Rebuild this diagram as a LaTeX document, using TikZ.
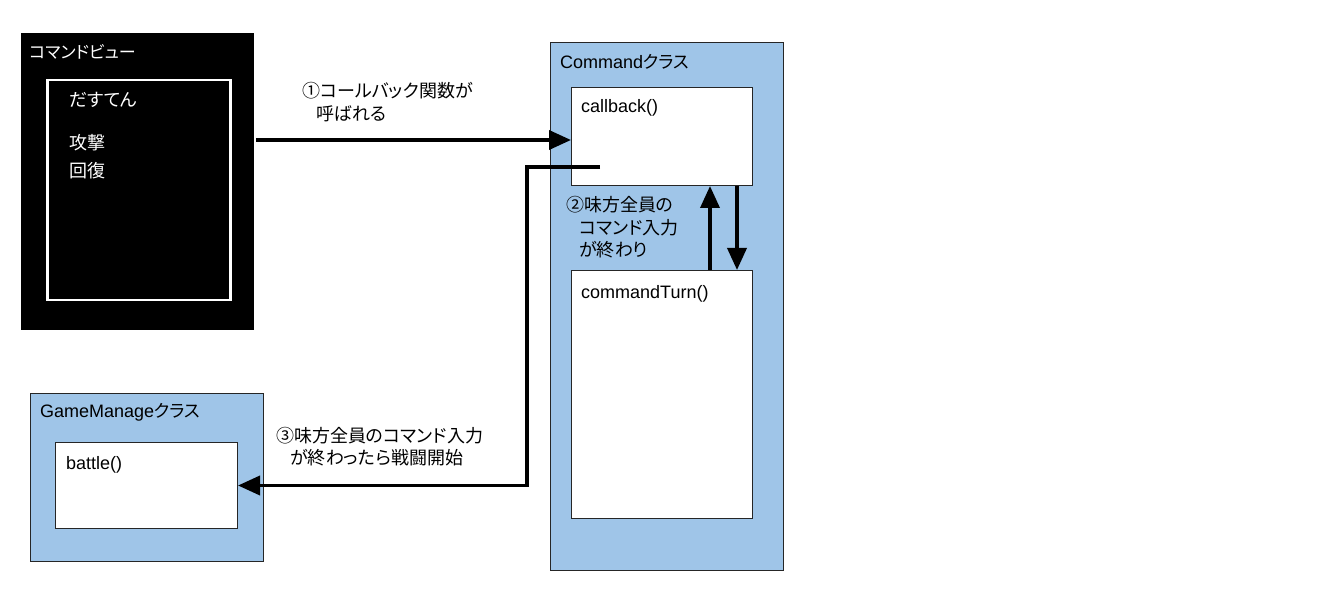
\documentclass[tikz,border=0pt]{standalone}
\usepackage{fontspec}
\setmainfont{Liberation Sans}
\newfontfamily\jp[RawFeature={+palt}]{Noto Sans CJK JP}
\usetikzlibrary{arrows.meta}
\definecolor{clsblue}{HTML}{9FC5E8}
\newcommand\J[1]{{\jp\fontsize{17.5}{20}\selectfont #1}}
\begin{document}
\begin{tikzpicture}[x=1pt,y=-1pt,
  cls/.style={draw=black!85, fill=clsblue, line width=1pt, anchor=north west, inner sep=0},
  fn/.style={draw=black!85, fill=white, line width=1pt, anchor=north west, inner sep=0},
  lbl/.style={anchor=west, inner sep=0, font=\fontsize{18}{20}\selectfont},
  jlbl/.style={anchor=west, inner sep=0, font=\jp\fontsize{18}{20}\selectfont},
  conn/.style={line width=3.6pt, -{Triangle[length=22pt,width=19pt]}},
]
\useasboundingbox (0,0) rectangle (1344,609);

% Command view (black panel)
\node[fill=black, anchor=north west, inner sep=0, minimum width=233pt, minimum height=297pt] (view) at (21,33) {};
\node[draw=white, line width=2.5pt, anchor=north west, inner sep=0, minimum width=183pt, minimum height=220pt] (menu) at (46,79) {};
\node[jlbl, text=white, font=\jp\fontsize{17}{20}\selectfont] (viewt) at (29,52) {コマンドビュー};
\node[jlbl, text=white] (m1) at (69,100) {だすてん};
\node[jlbl, text=white] (m2) at (69,143) {攻撃};
\node[jlbl, text=white] (m3) at (69,171) {回復};

% Command class
\node[cls, minimum width=233pt, minimum height=528pt] (cmd) at (550,42) {};
\node[lbl] (cmdt) at (560,62) {Command\J{クラス}};
\node[fn, minimum width=181pt, minimum height=98pt] (cb) at (571,87) {};
\node[lbl] (cbt) at (581,108) {callback()};
\node[fn, minimum width=181pt, minimum height=248pt] (ct) at (571,270) {};
\node[lbl] (ctt) at (581,294) {commandTurn()};

% GameManage class
\node[cls, minimum width=233pt, minimum height=168pt] (gm) at (30,393) {};
\node[lbl] (gmt) at (40,412) {GameManage\J{クラス}};
\node[fn, minimum width=182pt, minimum height=86pt] (bt) at (55,442) {};
\node[lbl] (btt) at (66,465) {battle()};

% labels
\node[jlbl] (l1a) at (302,91) {①コールバック関数が};
\node[jlbl] (l1b) at (316,114) {呼ばれる};
\node[jlbl] (l2a) at (566,205) {②味方全員の};
\node[jlbl] (l2b) at (579,228) {コマンド入力};
\node[jlbl] (l2c) at (579,250) {が終わり};
\node[jlbl] (l3a) at (276,436) {③味方全員のコマンド入力};
\node[jlbl] (l3b) at (290,458) {が終わったら戦闘開始};

% connectors
\coordinate (a1s) at (256,140);
\draw[conn] (a1s) -- (cb.west |- a1s);
\coordinate (r0) at (600,167);
\draw[conn] (r0) -- (527,167) |- (bt.east);
\coordinate (u) at (710,0);
\coordinate (d) at (737,0);
\draw[conn] (ct.north -| u) -- (cb.south -| u);
\draw[conn] (cb.south -| d) -- (ct.north -| d);
\end{tikzpicture}
\end{document}
